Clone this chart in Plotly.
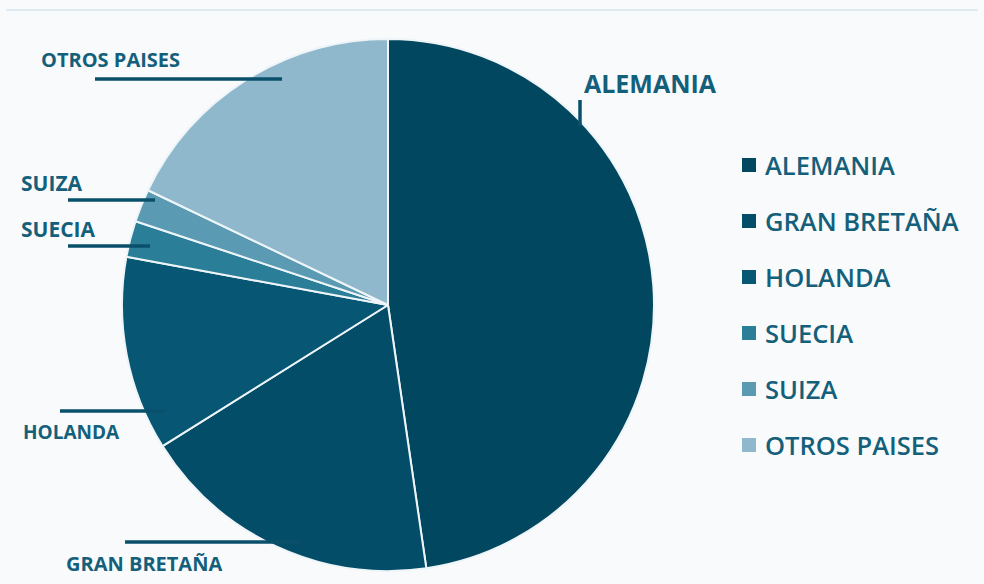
import plotly.graph_objects as go

# Share by country of origin
paises = ["ALEMANIA", "GRAN BRETAÑA", "HOLANDA", "SUECIA", "SUIZA", "OTROS PAISES"]
valores = [47.7, 18.4, 11.8, 2.2, 2.0, 17.9]
colores = ["#01475f", "#034d69", "#075673", "#2b7e98", "#5b9ab3", "#8fb8cc"]

W, H = 984, 584
texto = "#14607b"
linea = "#0b506b"
fuente = "Open Sans"

fig = go.Figure(
    go.Pie(
        labels=paises,
        values=valores,
        sort=False,
        direction="clockwise",
        rotation=0,
        marker=dict(colors=colores, line=dict(color="#eef5f8", width=2)),
        textinfo="none",
        hoverinfo="label+percent",
        showlegend=False,
        domain=dict(x=[122 / W, 654 / W], y=[1 - 571 / H, 1 - 39 / H]),
    )
)


def px(x):
    return x / W


def py(y):
    return 1 - y / H


shapes = []
annotations = []

# frame line along the top
shapes.append(dict(type="line", xref="paper", yref="paper",
                   x0=px(6), x1=px(978), y0=py(10), y1=py(10),
                   line=dict(color="#d6e6ef", width=1.5)))

# slice labels with leader lines
etiquetas = {
    "OTROS PAISES": dict(tx=39, ty=60, size=20, ln=(95, 282, 79, 79)),
    "SUIZA": dict(tx=19, ty=183, size=21, ln=(68, 155, 200, 200)),
    "SUECIA": dict(tx=19, ty=229, size=21, ln=(68, 150, 246, 246)),
    "HOLANDA": dict(tx=21, ty=432, size=19, ln=(60, 165, 411, 411)),
    "GRAN BRETAÑA": dict(tx=64, ty=563, size=20, ln=(125, 300, 542, 542)),
    "ALEMANIA": dict(tx=582, ty=83, size=25, ln=(580, 580, 100, 126)),
}
for nombre in paises:
    e = etiquetas[nombre]
    annotations.append(dict(
        text=nombre, xref="paper", yref="paper",
        x=px(e["tx"]), y=py(e["ty"]), xanchor="left", yanchor="middle",
        showarrow=False,
        font=dict(family=fuente, size=e["size"], color=texto, weight=700),
    ))
    x0, x1, y0, y1 = e["ln"]
    shapes.append(dict(type="line", xref="paper", yref="paper",
                       x0=px(x0), x1=px(x1), y0=py(y0), y1=py(y1),
                       line=dict(color=linea, width=3.5)))

# legend on the right
for i, (nombre, color) in enumerate(zip(paises, colores)):
    yc = 165 + i * 56
    shapes.append(dict(type="rect", xref="paper", yref="paper",
                       x0=px(742), x1=px(756), y0=py(yc + 7), y1=py(yc - 7),
                       fillcolor=color, line=dict(width=0)))
    annotations.append(dict(
        text=nombre, xref="paper", yref="paper",
        x=px(763), y=py(yc), xanchor="left", yanchor="middle",
        showarrow=False,
        font=dict(family=fuente, size=25.5, color=texto, weight=600),
    ))

fig.update_layout(
    width=W, height=H,
    margin=dict(l=0, r=0, t=0, b=0),
    paper_bgcolor="#f8fafc",
    plot_bgcolor="#f8fafc",
    shapes=shapes,
    annotations=annotations,
)

fig.write_html("out.html")
